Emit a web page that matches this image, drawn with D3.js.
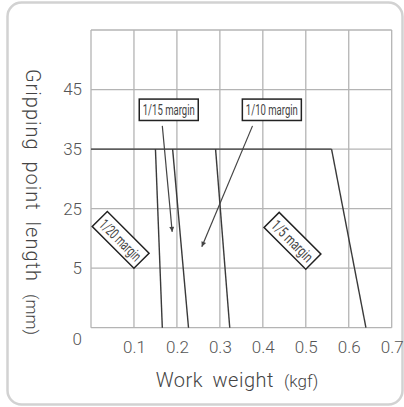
<!DOCTYPE html>
<html>
<head>
<meta charset="utf-8">
<script src="https://cdn.jsdelivr.net/npm/d3@7"></script>
<style>
  body { margin: 0; background: #fff; }
  svg { display: block; font-family: Roboto, "Noto Sans", sans-serif; font-weight: 300; }
</style>
</head>
<body>
<svg id="chart"></svg>
<script>
// axis ticks
var xTicks = [0.1, 0.2, 0.3, 0.4, 0.5, 0.6, 0.7];
var yTicks = [0, 5, 25, 35, 45, 55];
var yTickLabels = ["0", "5", "25", "35", "45", ""];

// margin lines: work weight at the 35 mm limit and at 0 mm
var marginNames = ["1/20 margin", "1/15 margin", "1/10 margin", "1/5 margin"];
var weightAt35 = [0.15, 0.19, 0.29, 0.56];
var weightAt0 = [0.166, 0.227, 0.323, 0.64];
var limitLength = 35;

// tag anchors in data units (weight, length)
var tagWeight = [0.069, 0.181, 0.421, 0.469];
var tagLength = [14.5, 41.6, 41.6, 14.2];
var tagAngle = [45, 0, 0, 45];
var arrowFrom = [null, [0.166, 38.9], [0.376, 38.9], null];
var arrowTo = [null, [0.189, 17.2], [0.258, 12.2], null];

var W = 404, H = 407;
var plotLeft = 91, plotRight = 391.7, plotTop = 30, plotBottom = 327.7;
var gridColor = "#b4b4b4", lineColor = "#3a3a3a", textColor = "#555";

var svg = d3.select("#chart").attr("width", W).attr("height", H);

// rounded frame
svg.append("rect")
  .attr("x", 7.5).attr("y", 2.5)
  .attr("width", 395).attr("height", 402)
  .attr("rx", 14)
  .attr("fill", "#fff")
  .attr("stroke", "#d2d2d2")
  .attr("stroke-width", 2.5);

var x = d3.scaleLinear().domain([0, 0.7]).range([plotLeft, plotRight]);
var step = (plotBottom - plotTop) / (yTicks.length - 1);
var y = d3.scaleLinear()
  .domain(yTicks)
  .range(yTicks.map(function(d, i) { return plotBottom - i * step; }));

// grid
var grid = svg.append("g");
grid.selectAll("line.v")
  .data([0].concat(xTicks))
  .enter().append("line")
  .attr("class", "v")
  .attr("x1", function(d) { return x(d); })
  .attr("x2", function(d) { return x(d); })
  .attr("y1", plotTop).attr("y2", plotBottom)
  .attr("stroke", gridColor).attr("stroke-width", 1.3);
grid.selectAll("line.h")
  .data(yTicks)
  .enter().append("line")
  .attr("class", "h")
  .attr("x1", plotLeft).attr("x2", plotRight)
  .attr("y1", function(d) { return y(d); })
  .attr("y2", function(d) { return y(d); })
  .attr("stroke", gridColor).attr("stroke-width", 1.3);

// axes (labels only)
var xAxis = svg.append("g")
  .attr("transform", "translate(0," + plotBottom + ")")
  .call(d3.axisBottom(x).tickValues(xTicks).tickSize(0).tickPadding(13).tickFormat(d3.format(".1f")));
var yAxis = svg.append("g")
  .attr("transform", "translate(" + plotLeft + ",0)")
  .call(d3.axisLeft(y).tickValues(yTicks).tickSize(0).tickPadding(9)
    .tickFormat(function(d, i) { return yTickLabels[i]; }));
[xAxis, yAxis].forEach(function(a) {
  a.select(".domain").remove();
  a.selectAll("text")
    .attr("fill", textColor)
    .style("font-size", "17px")
    .style("font-family", "Roboto, sans-serif")
    .style("font-weight", 300);
});
// the zero label sits lower, level with the x labels
yAxis.selectAll(".tick").filter(function(d) { return d === 0; })
  .select("text").attr("y", 11);

// limit line at 35 mm
var line = d3.line()
  .x(function(d) { return x(d[0]); })
  .y(function(d) { return y(d[1]); });
svg.append("path")
  .attr("d", line([[0, limitLength], [d3.max(weightAt35), limitLength]]))
  .attr("fill", "none").attr("stroke", lineColor).attr("stroke-width", 1.4);

// margin lines
svg.selectAll("path.margin")
  .data(marginNames)
  .enter().append("path")
  .attr("class", "margin")
  .attr("d", function(d, i) { return line([[weightAt35[i], limitLength], [weightAt0[i], 0]]); })
  .attr("fill", "none").attr("stroke", lineColor).attr("stroke-width", 1.4);

// arrow marker
svg.append("defs").append("marker")
  .attr("id", "arrow")
  .attr("viewBox", "0 0 10 10")
  .attr("refX", 10).attr("refY", 5)
  .attr("markerUnits", "userSpaceOnUse")
  .attr("markerWidth", 14).attr("markerHeight", 5)
  .attr("orient", "auto")
  .append("path")
  .attr("d", "M0,0 L10,5 L0,10 Z")
  .attr("fill", "#444");

marginNames.forEach(function(name, i) {
  if (!arrowFrom[i]) return;
  svg.append("path")
    .attr("d", line([arrowFrom[i], arrowTo[i]]))
    .attr("fill", "none")
    .attr("stroke", "#444").attr("stroke-width", 1.2)
    .attr("marker-end", "url(#arrow)");
});

// tags
var tags = svg.selectAll("g.tag")
  .data(marginNames)
  .enter().append("g")
  .attr("class", "tag")
  .attr("transform", function(d, i) {
    return "translate(" + x(tagWeight[i]) + "," + y(tagLength[i]) + ") rotate(" + tagAngle[i] + ")";
  });
tags.append("rect")
  .attr("x", -29.5).attr("y", -10.7)
  .attr("width", 59).attr("height", 21.4)
  .attr("fill", "#fff")
  .attr("stroke", "#222").attr("stroke-width", 1.5);
tags.append("text")
  .attr("x", 0).attr("y", 5.5)
  .attr("text-anchor", "middle")
  .attr("textLength", 52)
  .attr("lengthAdjust", "spacingAndGlyphs")
  .attr("fill", "#444")
  .style("font-size", "15px")
  .style("font-weight", 400)
  .text(function(d) { return d; });

// axis titles
var xt = svg.append("text")
  .attr("x", 237).attr("y", 387)
  .attr("text-anchor", "middle")
  .attr("fill", "#444")
  .style("font-size", "20px")
  .style("letter-spacing", "0.5px")
  .style("word-spacing", "4px");
xt.append("tspan").text("Work weight");
xt.append("tspan").attr("dx", 10).style("font-size", "17px").style("letter-spacing", "0px").text("(kgf)");

var yt = svg.append("text")
  .attr("transform", "translate(26,202) rotate(90)")
  .attr("text-anchor", "middle")
  .attr("fill", "#444")
  .style("font-size", "20px")
  .style("letter-spacing", "1px")
  .style("word-spacing", "5px");
yt.append("tspan").text("Gripping point length");
yt.append("tspan").attr("dx", 12).style("font-size", "17px").style("letter-spacing", "0px").text("(mm)");
</script>
</body>
</html>
